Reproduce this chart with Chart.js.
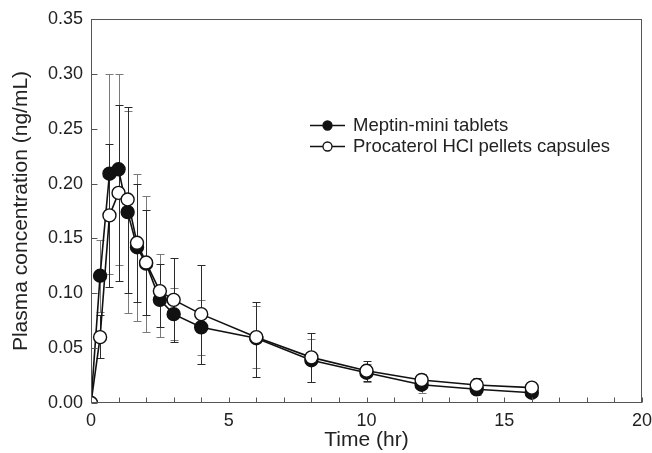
<!DOCTYPE html>
<html>
<head>
<meta charset="utf-8">
<script src="https://cdn.jsdelivr.net/npm/chart.js@4/dist/chart.umd.min.js"></script>
<style>
  html, body { margin: 0; padding: 0; background: #fff; }
  #wrap { width: 652px; height: 453px; }
</style>
</head>
<body>
<div id="wrap"><canvas id="c" width="652" height="453"></canvas></div>
<script>
// ---- data ----
const times = [0, 0.33, 0.67, 1, 1.33, 1.67, 2, 2.5, 3, 4, 6, 8, 10, 12, 14, 16];
const meptin = [0, 0.116, 0.209, 0.213, 0.174, 0.142, 0.127, 0.094, 0.081, 0.069, 0.059, 0.039, 0.0276, 0.0167, 0.0125, 0.0094];
const meptinHi = [0, 0.149, 0.300, 0.300, 0.266, 0.209, 0.189, 0.136, 0.105, 0.094, 0.088, 0.058, 0.036, 0.024, 0.018, 0.0094];
const meptinLo = [0, 0.083, 0.118, 0.126, 0.082, 0.075, 0.065, 0.060, 0.057, 0.044, 0.032, 0.019, 0.019, 0.009, 0.007, 0.0094];
const procaterol = [0, 0.060, 0.171, 0.1915, 0.1855, 0.146, 0.128, 0.102, 0.094, 0.081, 0.060, 0.0416, 0.0294, 0.021, 0.0164, 0.014];
const procHi = [0, 0.080, 0.236, 0.272, 0.270, 0.200, 0.176, 0.127, 0.132, 0.126, 0.092, 0.064, 0.0385, 0.026, 0.0225, 0.014];
const procLo = [0, 0.041, 0.106, 0.111, 0.100, 0.092, 0.080, 0.0695, 0.056, 0.036, 0.024, 0.019, 0.020, 0.016, 0.011, 0.014];
const seriesNames = ['Meptin-mini tablets', 'Procaterol HCl pellets capsules'];
const xTickLabels = ['0', '5', '10', '15', '20'];
const yTickLabels = ['0.00', '0.05', '0.10', '0.15', '0.20', '0.25', '0.30', '0.35'];
const xTitle = 'Time (hr)';
const yTitle = 'Plasma concentration (ng/mL)';

const FONT = "'Liberation Sans', Arial, Helvetica, sans-serif";
const TXT = '#222';

function pts(xs, ys) { return xs.map((x, i) => ({ x: x, y: ys[i] })); }

const errorSets = [
  { hi: meptinHi, lo: meptinLo, color: '#7a7a7a' },
  { hi: procHi, lo: procLo, color: '#2a2a2a' }
];

const errorBars = {
  id: 'errorBars',
  beforeDatasetsDraw(chart) {
    const { ctx, scales: { x, y } } = chart;
    ctx.save();
    ctx.lineWidth = 1;
    errorSets.forEach(s => {
      ctx.strokeStyle = s.color;
      times.forEach((t, i) => {
        if (s.hi[i] === s.lo[i]) return;
        const px = Math.round(x.getPixelForValue(t)) + 0.5;
        const yh = Math.round(y.getPixelForValue(s.hi[i])) + 0.5;
        const yl = Math.round(y.getPixelForValue(s.lo[i])) + 0.5;
        ctx.beginPath();
        ctx.moveTo(px, yh); ctx.lineTo(px, yl);
        ctx.moveTo(px - 4, yh); ctx.lineTo(px + 4, yh);
        ctx.moveTo(px - 4, yl); ctx.lineTo(px + 4, yl);
        ctx.stroke();
      });
    });
    ctx.restore();
  }
};

const frame = {
  id: 'frame',
  afterDraw(chart) {
    const { ctx, chartArea: a, scales: { x, y } } = chart;
    ctx.save();
    ctx.strokeStyle = '#555';
    ctx.lineWidth = 1;
    const L = Math.round(a.left) + 0.5, R = Math.round(a.right) - 0.5;
    const T = Math.round(a.top) + 0.5, B = Math.round(a.bottom) - 0.5;
    ctx.strokeRect(L, T, R - L, B - T);
    ctx.beginPath();
    x.ticks.forEach(tk => {
      const px = Math.round(x.getPixelForValue(tk.value)) + 0.5;
      ctx.moveTo(px, B); ctx.lineTo(px, B - 5);
    });
    y.ticks.forEach(tk => {
      const py = Math.round(y.getPixelForValue(tk.value)) + 0.5;
      ctx.moveTo(L, py); ctx.lineTo(L + 6, py);
    });
    ctx.stroke();
    ctx.restore();
  }
};

const legendPlugin = {
  id: 'customLegend',
  afterDraw(chart) {
    const { ctx } = chart;
    ctx.save();
    const rows = [125, 146];
    chart.data.datasets.forEach((ds, i) => {
      const yy = rows[i] + 0.5;
      ctx.strokeStyle = '#111';
      ctx.lineWidth = 1.3;
      ctx.beginPath(); ctx.moveTo(310, yy); ctx.lineTo(345, yy); ctx.stroke();
      ctx.beginPath(); ctx.arc(327.5, yy, 4.5, 0, Math.PI * 2);
      ctx.fillStyle = ds.pointBackgroundColor;
      ctx.fill(); ctx.stroke();
      ctx.fillStyle = TXT;
      ctx.font = '18.5px ' + FONT;
      ctx.textBaseline = 'middle';
      ctx.textAlign = 'left';
      ctx.fillText(ds.label, 353, rows[i] + 1);
    });
    ctx.restore();
  }
};

new Chart(document.getElementById('c'), {
  type: 'scatter',
  data: {
    datasets: [
      {
        label: seriesNames[0],
        data: pts(times, meptin),
        showLine: true,
        borderColor: '#111',
        borderWidth: 1.6,
        pointRadius: 6.5,
        pointBackgroundColor: '#111',
        pointBorderColor: '#111',
        pointBorderWidth: 1.4,
        order: 1
      },
      {
        label: seriesNames[1],
        data: pts(times, procaterol),
        showLine: true,
        borderColor: '#111',
        borderWidth: 1.6,
        pointRadius: 6.5,
        pointBackgroundColor: '#fff',
        pointBorderColor: '#111',
        pointBorderWidth: 1.4,
        order: 0
      }
    ]
  },
  options: {
    responsive: false,
    animation: false,
    layout: { padding: { top: 19, right: 10, left: 0, bottom: 0 } },
    plugins: { legend: { display: false }, tooltip: { enabled: false } },
    scales: {
      x: {
        type: 'linear',
        min: 0, max: 20,
        grid: { display: false, drawTicks: false },
        border: { display: false },
        ticks: {
          stepSize: 1,
          autoSkip: false,
          maxRotation: 0,
          padding: 7,
          color: TXT,
          font: { family: FONT, size: 18 },
          callback: (v) => (v % 5 === 0 ? xTickLabels[v / 5] : '')
        },
        title: {
          display: true, text: xTitle, color: TXT,
          font: { family: FONT, size: 21 },
          padding: { top: 0, bottom: 0 }
        },
        afterFit: (s) => { s.height = 50; s.paddingRight = 0; s.paddingLeft = 0; }
      },
      y: {
        type: 'linear',
        min: 0, max: 0.35,
        grid: { display: false, drawTicks: false },
        border: { display: false },
        ticks: {
          stepSize: 0.05,
          padding: 8,
          color: TXT,
          font: { family: FONT, size: 18 },
          callback: (v) => yTickLabels[Math.round(v / 0.05)]
        },
        title: {
          display: true, text: yTitle, color: TXT,
          font: { family: FONT, size: 21 },
          padding: { top: 9, bottom: 0 }
        },
        afterFit: (s) => { s.width = 91; s.paddingTop = 0; s.paddingBottom = 0; }
      }
    }
  },
  plugins: [errorBars, frame, legendPlugin]
});
</script>
</body>
</html>
